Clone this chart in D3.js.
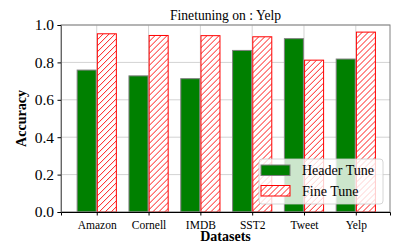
<!DOCTYPE html>
<html>
<head>
<meta charset="utf-8">
<script src="https://cdn.jsdelivr.net/npm/d3@7"></script>
<style>
  body { margin: 0; background: #fff; }
  text { font-family: "Liberation Serif", "Times New Roman", "DejaVu Serif", serif; }
</style>
</head>
<body>
<div id="chart"></div>
<script>
// values
var datasets = ["Amazon", "Cornell", "IMDB", "SST2", "Tweet", "Yelp"];
var headerTune = [0.759, 0.728, 0.713, 0.864, 0.927, 0.818];
var fineTune = [0.953, 0.944, 0.943, 0.937, 0.812, 0.962];
var yTicks = [0.0, 0.2, 0.4, 0.6, 0.8, 1.0];
var seriesNames = ["Header Tune", "Fine Tune"];

var width = 397,
	height = 244,
	plotLeft = 61,
	plotRight = 390,
	plotTop = 25,
	plotBottom = 212,
	barW = 19,
	gap = 0.6,
	hatchStep = 6;

var svg = d3.select("#chart").append("svg")
	.attr("width", width)
	.attr("height", height);
var defs = svg.append("defs");

//draws red "//" hatch lines clipped to a box
function hatchBox(g, id, bx, by, bw, bh) {
	defs.append("clipPath").attr("id", id)
		.append("rect").attr("x", bx).attr("y", by).attr("width", bw).attr("height", bh);
	g.append("rect").attr("x", bx).attr("y", by).attr("width", bw).attr("height", bh)
		.attr("fill", "#ffffff");
	var offs = d3.range(-bh - hatchStep, bw + hatchStep, hatchStep);
	g.append("g").attr("clip-path", "url(#" + id + ")")
		.selectAll("line")
		.data(offs)
		.enter().append("line")
		.attr("x1", function(o){ return bx + o; })
		.attr("y1", by + bh)
		.attr("x2", function(o){ return bx + o + bh; })
		.attr("y2", by)
		.attr("stroke", "#ff0000")
		.attr("stroke-width", 0.9);
	g.append("rect").attr("x", bx).attr("y", by).attr("width", bw).attr("height", bh)
		.attr("fill", "none").attr("stroke", "#ff0000").attr("stroke-width", 1);
}

var x = d3.scaleLinear().domain([-0.69, 5.66]).range([plotLeft, plotRight]);
var y = d3.scaleLinear().domain([0, 1]).range([plotBottom, plotTop]);

//grid lines
svg.append("g").selectAll("line")
	.data(yTicks)
	.enter().append("line")
	.attr("x1", plotLeft).attr("x2", plotRight)
	.attr("y1", function(d){ return y(d); })
	.attr("y2", function(d){ return y(d); })
	.attr("stroke", "#d3d3d3")
	.attr("stroke-width", 1);
svg.append("g").selectAll("line")
	.data(datasets)
	.enter().append("line")
	.attr("x1", function(d,i){ return x(i); })
	.attr("x2", function(d,i){ return x(i); })
	.attr("y1", plotTop).attr("y2", plotBottom)
	.attr("stroke", "#d3d3d3")
	.attr("stroke-width", 1);

//bars
svg.append("g").selectAll("rect")
	.data(headerTune)
	.enter().append("rect")
	.attr("x", function(d,i){ return x(i) - barW - gap; })
	.attr("y", function(d){ return y(d); })
	.attr("width", barW)
	.attr("height", function(d){ return plotBottom - y(d); })
	.attr("fill", "#008000")
	.attr("stroke", "#808080")
	.attr("stroke-width", 1);

var fineG = svg.append("g");
fineTune.forEach(function(d, i){
	hatchBox(fineG, "clipFine" + i, x(i) + gap, y(d), barW, plotBottom - y(d));
});

//frame
svg.append("rect")
	.attr("x", plotLeft).attr("y", plotTop)
	.attr("width", plotRight - plotLeft).attr("height", plotBottom - plotTop)
	.attr("fill", "none")
	.attr("stroke", "#808080")
	.attr("stroke-width", 1);

//axes
var yAxis = svg.append("g")
	.attr("transform", "translate(" + plotLeft + ",0)")
	.call(d3.axisLeft(y).tickValues(yTicks).tickFormat(d3.format(".1f")).tickSize(3.5).tickPadding(3.5))
	.attr("font-family", "Liberation Serif")
	.attr("font-size", 15.5);
yAxis.select(".domain").attr("stroke", "#666");
yAxis.selectAll("text").attr("fill", "#000");

var xAxis = svg.append("g")
	.attr("transform", "translate(0," + plotBottom + ")")
	.call(d3.axisBottom(x).tickValues(d3.range(datasets.length))
		.tickFormat(function(i){ return datasets[i]; }).tickSize(3.5).tickPadding(5))
	.attr("font-family", "Liberation Serif")
	.attr("font-size", 11.5);
xAxis.select(".domain").attr("stroke", "#000");
xAxis.selectAll("text").attr("fill", "#000");

//title and labels
svg.append("text")
	.attr("x", (plotLeft + plotRight) / 2).attr("y", 19.5)
	.attr("text-anchor", "middle")
	.attr("font-size", 13.6)
	.text("Finetuning on : Yelp");

svg.append("text")
	.attr("x", (plotLeft + plotRight) / 2).attr("y", 241)
	.attr("text-anchor", "middle")
	.attr("font-size", 14)
	.attr("font-weight", "bold")
	.text("Datasets");

svg.append("text")
	.attr("transform", "translate(26," + ((plotTop + plotBottom) / 2) + ") rotate(-90)")
	.attr("text-anchor", "middle")
	.attr("font-size", 14)
	.attr("font-weight", "bold")
	.text("Accuracy");

//legend
var legend = svg.append("g").attr("transform", "translate(259,159)");
legend.append("rect")
	.attr("width", 124).attr("height", 45)
	.attr("rx", 3)
	.attr("fill", "#fff").attr("fill-opacity", 0.8)
	.attr("stroke", "#ccc").attr("stroke-width", 0.8);
legend.append("rect")
	.attr("x", 2).attr("y", 6)
	.attr("width", 29).attr("height", 10.5)
	.attr("fill", "#008000")
	.attr("stroke", "#808080")
	.attr("stroke-width", 1);
hatchBox(legend, "clipLegend", 2, 26.5, 29, 10.5);
legend.selectAll("text")
	.data(seriesNames)
	.enter().append("text")
	.attr("x", 43)
	.attr("y", function(d,i){ return 16 + i * 20.5; })
	.attr("font-size", 14)
	.text(function(d){ return d; });
</script>
</body>
</html>
